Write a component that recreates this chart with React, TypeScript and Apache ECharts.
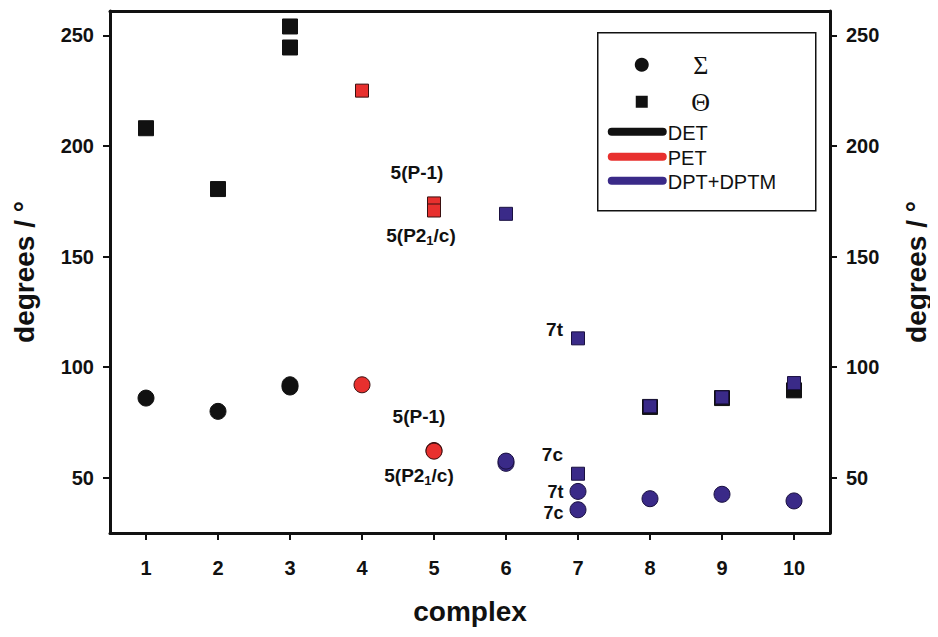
import React, { useEffect, useRef } from "react";
import * as echarts from "echarts";

// complex index, value (degrees)
const detSigma: [number, number][] = [[1, 86], [2, 80], [3, 91], [3, 92]];
const petSigma: [number, number][] = [[4, 92], [5, 62.3], [5, 62]];
const dptSigma: [number, number][] = [[6, 56.5], [6, 57.5], [7, 43.8], [7, 35.5], [8, 40.5], [9, 42.5], [10, 39.5]];
const detTheta: [number, number][] = [[1, 208], [2, 180.5], [3, 254], [3, 244.5], [8, 82], [9, 86], [10, 89.5]];
const petTheta: [number, number][] = [[4, 225], [5, 174], [5, 170.8]];
const dptTheta: [number, number][] = [[6, 169.3], [7, 113], [7, 51.8], [8, 82.3], [9, 86.3], [10, 92.8]];

// annotations: [series key, index in series, text, position, offset]
const annotations: [string, number, string, string, [number, number]][] = [
  ["petTheta", 1, "5(P-1)", "top", [-17, -8]],
  ["petTheta", 2, "5(P2{sub|1}/c)", "bottom", [-13, 2]],
  ["petSigma", 1, "5(P-1)", "top", [-15, -9]],
  ["petSigma", 2, "5(P2{sub|1}/c)", "bottom", [-15, 0]],
  ["dptTheta", 1, "7t", "left", [-2, -9]],
  ["dptTheta", 2, "7c", "left", [-2, -19]],
  ["dptSigma", 2, "7t", "left", [0, 1]],
  ["dptSigma", 3, "7c", "left", [0, 3]],
];

const yTicks = [50, 100, 150, 200, 250];
const xTicks = [1, 2, 3, 4, 5, 6, 7, 8, 9, 10];

const BLACK = "#111111";
const RED = "#e8302e";
const BLUE = "#3a2a88";
const FONT = "'Liberation Sans', Arial, sans-serif";

function buildData(key: string, arr: [number, number][]) {
  return arr.map((p, i) => {
    const ann = annotations.find((a) => a[0] === key && a[1] === i);
    if (!ann) return { value: p };
    const tight = key === "dptSigma";
    return {
      value: p,
      label: {
        show: true,
        formatter: ann[2],
        position: ann[3],
        offset: ann[4],
        distance: 6,
        color: BLACK,
        fontFamily: FONT,
        fontWeight: "bold",
        fontSize: tight ? 18 : 19,
        lineHeight: tight ? 17 : 20,
        rich: {
          sub: { fontSize: 13, fontWeight: "bold", fontFamily: FONT, color: BLACK, padding: [9, 0, 0, 0] },
        },
      },
    };
  });
}

export default function App() {
  const ref = useRef<HTMLDivElement>(null);
  useEffect(() => {
    if (!ref.current) return;
    const chart = echarts.init(ref.current, null, { renderer: "svg" });
    const axisCommon = {
      axisLine: { show: true, onZero: false, lineStyle: { color: BLACK, width: 3 } },
      splitLine: { show: false },
    };
    const tickLabel = { color: BLACK, fontFamily: FONT, fontWeight: "bold", fontSize: 20 };
    const sym = (key: string, data: [number, number][], shape: string, color: string, size: number, border: string, z: number) => ({
      type: "scatter",
      name: key,
      symbol: shape,
      symbolSize: size,
      z,
      itemStyle: { color, borderColor: border, borderWidth: 1, opacity: 1 },
      data: buildData(key, data),
    });
    const yName = {
      name: "degrees / °",
      nameLocation: "middle",
      nameGap: 72,
      nameRotate: 90,
      nameTextStyle: { color: BLACK, fontFamily: FONT, fontWeight: "bold", fontSize: 28 },
    };
    chart.setOption({
      animation: false,
      backgroundColor: "#ffffff",
      grid: { left: 110, top: 11, right: 107, bottom: 104, containLabel: false },
      xAxis: [
        {
          type: "value",
          min: 0.5,
          max: 10.5,
          position: "bottom",
          ...axisCommon,
          axisTick: { show: true, inside: false, length: 7, lineStyle: { color: BLACK, width: 2 }, customValues: xTicks },
          axisLabel: { ...tickLabel, margin: 25, customValues: xTicks },
          name: "complex",
          nameLocation: "middle",
          nameGap: 64,
          nameTextStyle: { color: BLACK, fontFamily: FONT, fontWeight: "bold", fontSize: 28 },
        },
        {
          type: "value",
          min: 0.5,
          max: 10.5,
          position: "top",
          ...axisCommon,
          axisTick: { show: false },
          axisLabel: { show: false },
        },
      ],
      yAxis: [
        {
          type: "value",
          min: 25,
          max: 261,
          position: "left",
          ...axisCommon,
          axisTick: { show: true, length: 7, lineStyle: { color: BLACK, width: 2 }, customValues: yTicks },
          axisLabel: { ...tickLabel, margin: 16, customValues: yTicks },
          ...yName,
        },
        {
          type: "value",
          min: 25,
          max: 261,
          position: "right",
          ...axisCommon,
          axisTick: { show: true, length: 7, lineStyle: { color: BLACK, width: 2 }, customValues: yTicks },
          axisLabel: { ...tickLabel, margin: 16, customValues: yTicks },
          ...yName,
        },
      ],
      series: [
        sym("detSigma", detSigma, "circle", BLACK, 16, BLACK, 2),
        sym("petSigma", petSigma, "circle", RED, 16, "#3a1010", 3),
        sym("dptSigma", dptSigma, "circle", BLUE, 16, "#1a1040", 3),
        sym("detTheta", detTheta, "rect", BLACK, 15, BLACK, 2),
        sym("petTheta", petTheta, "rect", RED, 13, "#3a1010", 3),
        sym("dptTheta", dptTheta, "rect", BLUE, 13, "#1a1040", 3),
      ],
      graphic: [
        {
          type: "group",
          left: 597,
          top: 32,
          children: [
            { type: "rect", shape: { x: 0, y: 0, width: 218, height: 178 }, style: { fill: "#fff", stroke: BLACK, lineWidth: 1.5 } },
            { type: "circle", shape: { cx: 44, cy: 32, r: 7 }, style: { fill: BLACK } },
            { type: "text", x: 103, y: 33, style: { text: "Σ", font: "26px 'Liberation Serif', 'DejaVu Serif', serif", fill: BLACK, align: "center", verticalAlign: "middle" } },
            { type: "rect", shape: { x: 38, y: 63, width: 12, height: 12 }, style: { fill: BLACK } },
            { type: "text", x: 103, y: 70, style: { text: "Θ", font: "26px 'Liberation Serif', 'DejaVu Serif', serif", fill: BLACK, align: "center", verticalAlign: "middle" } },
            { type: "line", shape: { x1: 14, y1: 99, x2: 65, y2: 99 }, style: { stroke: BLACK, lineWidth: 8, lineCap: "round" } },
            { type: "text", x: 70, y: 100, style: { text: "DET", font: `20px ${FONT}`, fill: BLACK, verticalAlign: "middle" } },
            { type: "line", shape: { x1: 14, y1: 124, x2: 65, y2: 124 }, style: { stroke: RED, lineWidth: 8, lineCap: "round" } },
            { type: "text", x: 70, y: 125, style: { text: "PET", font: `20px ${FONT}`, fill: BLACK, verticalAlign: "middle" } },
            { type: "line", shape: { x1: 14, y1: 148, x2: 65, y2: 148 }, style: { stroke: BLUE, lineWidth: 8, lineCap: "round" } },
            { type: "text", x: 70, y: 149, style: { text: "DPT+DPTM", font: `20px ${FONT}`, fill: BLACK, verticalAlign: "middle" } },
          ],
        },
      ],
    });
    return () => chart.dispose();
  }, []);
  return <div ref={ref} style={{ width: 938, height: 637, margin: -8 }} />;
}
